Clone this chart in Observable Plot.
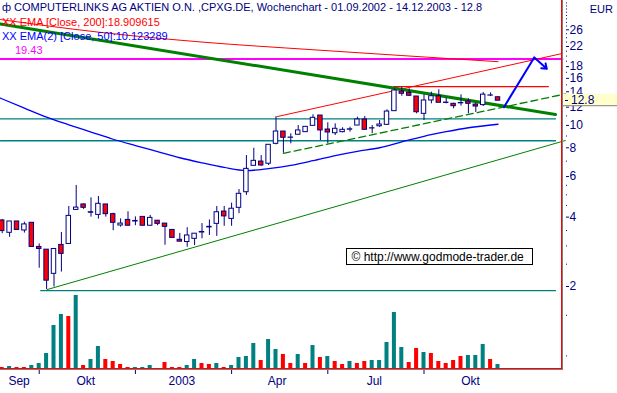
<!DOCTYPE html>
<html><head><meta charset="utf-8">
<script src="https://cdn.jsdelivr.net/npm/d3@7"></script>
<script src="https://cdn.jsdelivr.net/npm/@observablehq/plot@0.6"></script>
<style>
body{margin:0;background:#fff;}
#chart{position:relative;width:617px;height:393px;overflow:hidden;font-family:"Liberation Sans",Arial,sans-serif;}
#chart svg{position:absolute;left:0;top:0;}
</style></head><body><div id="chart"></div>
<script>
// ---- data (weekly candles from Mon 2002-09-02) ----
const firstWeek = "2002-09-02";
const opens  = [3.87,3.42,3.83,3.50,3.78,2.97,2.89,2.27,3.03,3.06,4.30,4.54,4.20,4.09,4.54,4.12,3.68,3.89,3.83,4.01,3.67,3.86,3.75,3.52,3.19,3.12,3.22,3.43,3.61,3.74,4.23,3.93,4.39,5.13,6.68,6.97,6.82,8.32,9.41,8.84,9.11,9.35,9.96,11.04,9.60,9.25,9.35,9.58,9.99,10.61,9.70,9.92,10.06,11.53,14.04,13.85,13.35,11.23,12.83,13.39,12.52,12.41,12.47,12.70,12.32,12.25,13.47,13.25];
const highs  = [3.90,3.83,3.83,3.80,3.78,3.06,2.89,2.91,3.43,4.45,5.49,4.56,4.85,4.92,4.54,4.16,3.93,4.22,4.01,4.01,4.07,3.86,3.75,3.52,3.40,3.60,3.39,3.75,3.89,4.45,4.45,4.60,5.27,7.40,7.96,7.40,8.24,10.93,9.41,9.20,9.99,9.86,11.12,11.04,10.27,10.16,9.77,9.82,10.86,10.93,9.99,10.50,11.69,14.42,14.65,14.42,13.35,13.58,13.94,14.28,13.13,12.49,13.58,13.05,12.49,13.90,13.85,13.30];
const lows   = [3.39,3.27,3.52,3.41,2.97,2.40,1.94,1.99,2.31,3.06,4.30,4.32,4.00,3.92,4.00,3.49,3.62,3.67,3.67,3.67,3.65,3.67,3.02,3.25,3.13,2.96,3.01,3.22,3.33,3.30,3.65,3.65,4.14,4.97,6.68,6.65,6.70,8.24,7.58,8.32,9.11,9.35,9.96,8.60,8.32,9.04,9.29,9.35,9.99,9.57,9.20,9.80,9.99,11.53,13.39,13.35,11.23,10.50,12.41,12.54,12.41,11.81,12.12,11.23,11.38,12.08,13.35,12.80];
const closes = [3.48,3.83,3.52,3.72,2.97,2.91,2.12,2.91,2.77,4.05,4.40,4.39,4.18,4.57,4.12,3.78,3.75,3.67,3.85,3.67,3.97,3.74,3.63,3.25,3.13,3.33,3.39,3.45,3.63,4.20,4.03,4.35,5.05,6.48,7.02,6.70,8.24,9.41,8.84,8.86,9.51,9.86,10.79,9.51,9.32,9.67,9.57,9.62,10.61,9.57,9.72,10.09,11.49,14.18,13.72,13.45,11.41,12.83,13.39,12.54,12.56,12.12,12.51,12.41,12.08,13.60,13.50,12.80];
const volumes = [1,2,1,1,3,5,15,43,54,52,73,3,9,22,9,7,4,1,1,1,3,0,6,1,1,3,9,5,4,5,1,3,11,12,25,8,29,19,14,5,14,5,23,11,12,7,4,7,5,7,8,8,26,56,21,6,20,16,15,7,5,8,12,13,13,24,9,4];
const volumeDir = "dudduuuuududuudddduuuuddduudduduuuuduuddudududdudduuuuudduddddduuudud";

// indicators: [week index, price]
const ema200 = [[-0.23,28.8],[13,25.4],[27,23.0],[42,21.3],[54,20.1],[67,18.91]];
const ema50 = [[-0.23,13.13],[3,11.89],[6,10.86],[9,10.06],[12,9.36],[15,8.71],[18,8.18],[21,7.70],[24,7.24],[27,6.88],[30,6.57],[33,6.37],[36,6.50],[39,6.71],[42,7.03],[45,7.40],[48,7.72],[51,8.00],[54,8.48],[57,8.97],[60,9.39],[63,9.77],[67,10.12]];
// drawn lines: [week index, price]
const greenDownTrend = [[-0.23,27.55],[74.77,11.15]];
const greenSupport = [[6.08,1.94],[76.1,8.6]];
const greenChannelLow = [[38.0,7.56],[76.1,13.69]];
const redChannelHigh = [[37.2,10.93],[75.7,20.52]];
const redResistance = [[52.9,14.75],[73.8,14.75]];
const tealLevels = [[[-0.23,10.68],[74.77,10.68]],[[-0.23,8.58],[74.77,8.58]],[[5.2,1.92],[74.77,1.92]]];
const magentaLevel = [[-0.23,19.43],[75.7,19.43]];
const blueForecast = [[67.8,12.0],[71.9,19.71]];
const blueArrowHead = [[71.9,19.71],[73.6,17.6]];

const majorTicks = [2,4,6,8,10,12,14,16,18,22,26];
const minorTicks = [1,1.5,2.5,3,3.5,4.5,5,5.5,7,9,11,13,15,17,19,20,21,23,24,25,27,28,29,30,31,32,33,34];
const quarterTickWeeks = [5,18,31,44,57];
const monthLabels = ["Sep","Okt","2003","Apr","Jul","Okt"];
const monthLabelDates = ["2002-09-18","2002-11-20","2003-02-19","2003-05-20","2003-08-20","2003-11-19"];

const titleText = "COMPUTERLINKS AG AKTIEN O.N. ,CPXG.DE, Wochenchart - 01.09.2002 - 14.12.2003 - 12.8";
const ema200Label = "XX EMA [Close, 200]:18.909615";
const ema50Label = "XX EMA(2) [Close, 50]:10.123289";
const magentaLabel = "19.43";
const lastPrice = 12.8;
const currency = "EUR";
const copyright = "© http://www.godmode-trader.de";

// ---- colours ----
const NAVY="#000080", RED="#ff0000", TEAL="#008080", GREEN="#008000", BLUE="#0000ff", MAG="#ff00ff";

const DAY = 864e5, WEEK = 7*DAY;
const t0 = new Date(firstWeek + "T00:00:00Z");
const wk = w => new Date(+t0 + w*WEEK);
const dates = opens.map((_, i) => wk(i));
const candles = dates.map((date, i) => ({date, open: opens[i], high: highs[i], low: lows[i], close: closes[i]}));
const vols = dates.map((date, i) => ({date, vol: volumes[i], dir: volumeDir[i]}));
const P = arr => arr.map(([w, p]) => ({date: wk(w), price: p}));

const xScale = {type: "utc", domain: [dates[0], dates[dates.length - 1]], range: [1.7, 497.5]};
const FONT = "'Liberation Sans', Arial, sans-serif";

function lineMark(pts, o) { return Plot.line(P(pts), {x: "date", y: "price", ...o}); }

function decor(index, scales, values, dim) {
  const g = d3.create("svg:g").attr("font-family", FONT).attr("text-anchor", "start");
  const right = dim.width - dim.marginRight, bottom = dim.height - dim.marginBottom;
  // frame lines
  g.append("line").attr("x1", right - 0.5).attr("x2", right - 0.5).attr("y1", 0).attr("y2", bottom + 1).attr("stroke", RED);
  g.append("line").attr("x1", right + 0.5).attr("x2", right + 0.5).attr("y1", 0).attr("y2", bottom + 2).attr("stroke", "#808080");
  g.append("line").attr("x1", 0).attr("x2", right).attr("y1", bottom + 0.5).attr("y2", bottom + 0.5).attr("stroke", RED);
  g.append("line").attr("x1", 0).attr("x2", right).attr("y1", bottom + 1.5).attr("y2", bottom + 1.5).attr("stroke", "#808080");
  // title & legend lines
  const t = (x, y, fill, size, s) => g.append("text").attr("x", x).attr("y", y).attr("dy", "0.35em").attr("fill", fill).attr("font-size", size).text(s);
  t(2, 7, NAVY, 11, "ф");
  t(14, 7, NAVY, 11, titleText);
  t(2, 22, RED, 11, ema200Label);
  t(2, 36, BLUE, 11, ema50Label);
  t(15, 50, MAG, 11, magentaLabel);
  // currency
  t(613, 9, NAVY, 11, currency).attr("text-anchor", "end");
  // last price box
  const yy = scales.y(lastPrice);
  g.append("rect").attr("x", right + 1).attr("y", yy - 6.5).attr("width", dim.width - right - 1).attr("height", 12).attr("fill", "#ffffcc");
  g.append("line").attr("x1", right + 1).attr("x2", dim.width).attr("y1", yy + 5.5).attr("y2", yy + 5.5).attr("stroke", "#808080");
  g.append("line").attr("x1", right + 3).attr("x2", right + 6).attr("y1", Math.round(yy) + 0.5).attr("y2", Math.round(yy) + 0.5).attr("stroke", NAVY);
  t(right + 9, yy, NAVY, 12, String(lastPrice));
  // copyright box
  g.append("rect").attr("x", 346.5).attr("y", 248.5).attr("width", 186).attr("height", 16).attr("fill", "white").attr("stroke", "black");
  t(351.5, 256.5, "black", 12, copyright);
  return g.node();
}

const volPlot = Plot.plot({
  width: 617, height: 393, marginLeft: 0, marginRight: 55, marginTop: 0, marginBottom: 25,
  x: {...xScale, axis: null},
  y: {type: "linear", domain: [0, 73], range: [368, 295], axis: null},
  style: {background: "transparent", overflow: "visible"},
  marks: [
    Plot.rect(vols.filter(d => d.vol > 0), {
      x1: d => new Date(+d.date - 1.9*DAY), x2: d => new Date(+d.date + 1.9*DAY),
      y1: 0, y2: "vol", fill: d => d.dir === "u" ? TEAL : RED
    })
  ]
});

const pricePlot = Plot.plot({
  width: 617, height: 393, marginLeft: 0, marginRight: 55, marginTop: 0, marginBottom: 25,
  x: xScale,
  y: {type: "log", domain: [2, 26], range: [286, 29.3]},
  style: {background: "transparent", overflow: "visible", fontFamily: FONT, fontSize: "11px"},
  marks: [
    ...tealLevels.map(l => lineMark(l, {stroke: TEAL, strokeWidth: 1.3})),
    lineMark(magentaLevel, {stroke: MAG, strokeWidth: 2}),
    lineMark(ema200, {stroke: RED, strokeWidth: 1, curve: "monotone-x"}),
    lineMark(ema50, {stroke: BLUE, strokeWidth: 1.3, curve: "monotone-x"}),
    lineMark(greenSupport, {stroke: GREEN, strokeWidth: 1}),
    lineMark(greenChannelLow, {stroke: GREEN, strokeWidth: 1.3, strokeDasharray: "7,4"}),
    lineMark(redChannelHigh, {stroke: RED, strokeWidth: 1}),
    lineMark(redResistance, {stroke: RED, strokeWidth: 1.3}),
    lineMark(greenDownTrend, {stroke: GREEN, strokeWidth: 3}),
    Plot.ruleX(candles, {x: "date", y1: "low", y2: "high", stroke: NAVY, strokeWidth: 1}),
    Plot.rect(candles, {
      x1: d => new Date(+d.date - 2.1*DAY), x2: d => new Date(+d.date + 2.1*DAY),
      y1: "open", y2: "close", fill: d => d.close < d.open ? RED : "white", stroke: NAVY, strokeWidth: 1
    }),
    lineMark(blueForecast, {stroke: BLUE, strokeWidth: 2}),
    Plot.arrow([blueArrowHead], {x1: d => wk(d[0][0]), y1: d => d[0][1], x2: d => wk(d[1][0]), y2: d => d[1][1], stroke: BLUE, strokeWidth: 2, headLength: 7, headAngle: 70}),
    Plot.axisY({anchor: "right", ticks: minorTicks, tickSize: 1, dx: 3, tickFormat: () => "", color: NAVY, label: null}),
    Plot.axisY({anchor: "right", ticks: majorTicks, tickSize: 3, tickPadding: 1, dx: 3, tickFormat: d => String(d), color: NAVY, fontSize: 12, label: null}),
    Plot.axisX({ticks: quarterTickWeeks.map(w => wk(w)), tickSize: 4, dy: 2, tickFormat: () => "", color: NAVY, label: null}),
    Plot.text(monthLabels, {x: (d, i) => new Date(monthLabelDates[i] + "T00:00:00Z"), text: d => d, frameAnchor: "bottom", dy: 16, fill: NAVY, fontSize: 12}),
    decor
  ]
});

const root = document.getElementById("chart");
root.appendChild(volPlot);
root.appendChild(pricePlot);
</script>
</body></html>
